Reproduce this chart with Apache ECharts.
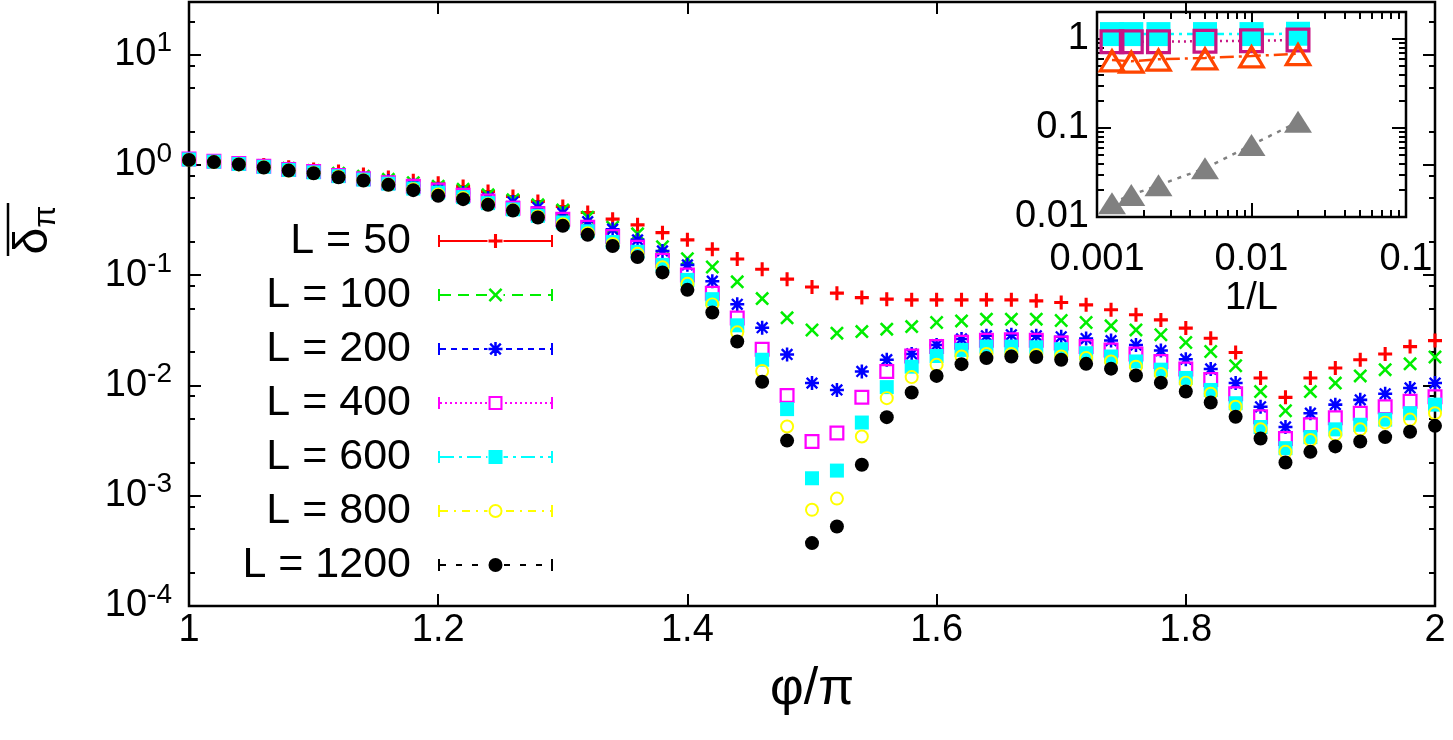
<!DOCTYPE html>
<html>
<head>
<meta charset="utf-8">
<title>delta_pi vs phi/pi</title>
<script src="https://cdn.jsdelivr.net/npm/echarts@6/dist/echarts.min.js"></script>
<style>
  html, body { margin: 0; padding: 0; background: #fff; }
  #main { width: 1453px; height: 740px; }
</style>
</head>
<body>
<div id="main"></div>
<script>
// ---- data ----
var phi = [1.00, 1.02, 1.04, 1.06, 1.08, 1.10, 1.12, 1.14, 1.16, 1.18,
           1.20, 1.22, 1.24, 1.26, 1.28, 1.30, 1.32, 1.34, 1.36, 1.38,
           1.40, 1.42, 1.44, 1.46, 1.48, 1.50, 1.52, 1.54, 1.56, 1.58,
           1.60, 1.62, 1.64, 1.66, 1.68, 1.70, 1.72, 1.74, 1.76, 1.78,
           1.80, 1.82, 1.84, 1.86, 1.88, 1.90, 1.92, 1.94, 1.96, 1.98, 2.00];

var dL50 = [1.13, 1.08, 1.04, 1.0, 0.95, 0.91, 0.87, 0.82, 0.77, 0.72,
            0.682, 0.636, 0.573, 0.516, 0.465, 0.419, 0.370, 0.322, 0.286, 0.243,
            0.209, 0.172, 0.140, 0.113, 0.092, 0.078, 0.0687, 0.0626, 0.0606, 0.0597,
            0.0597, 0.0597, 0.0597, 0.0597, 0.0585, 0.0565, 0.0538, 0.0485, 0.0437, 0.0393,
            0.0331, 0.0268, 0.0199, 0.0117, 0.0078, 0.0117, 0.0144, 0.0171, 0.0193, 0.0225, 0.0255];
var dL100 = [1.12, 1.07, 1.03, 0.98, 0.93, 0.89, 0.84, 0.79, 0.74, 0.69,
             0.64, 0.60, 0.535, 0.482, 0.434, 0.39, 0.336, 0.272, 0.237, 0.181,
             0.141, 0.1186, 0.087, 0.0613, 0.041, 0.0318, 0.0298, 0.0308, 0.0324, 0.0342,
             0.0372, 0.0385, 0.0399, 0.0399, 0.0399, 0.0388, 0.0372, 0.0347, 0.0319, 0.0288,
             0.0245, 0.0203, 0.0151, 0.0088, 0.0059, 0.0088, 0.0105, 0.0122, 0.0139, 0.0157, 0.0181];
var dL200 = [1.12, 1.07, 1.02, 0.97, 0.92, 0.87, 0.81, 0.76, 0.71, 0.65,
             0.60, 0.555, 0.50, 0.46, 0.41, 0.365, 0.306, 0.261, 0.209, 0.166,
             0.124, 0.0882, 0.0544, 0.0334, 0.0191, 0.0105, 0.0091, 0.0134, 0.0171, 0.0193,
             0.0233, 0.0264, 0.0282, 0.0288, 0.0282, 0.0276, 0.0266, 0.0255, 0.0233, 0.0207,
             0.0173, 0.0141, 0.0105, 0.0064, 0.0042, 0.0056, 0.0067, 0.0074, 0.0084, 0.0095, 0.0105];
var dL400 = [1.13, 1.08, 1.03, 0.97, 0.91, 0.87, 0.80, 0.75, 0.69, 0.64,
             0.593, 0.53, 0.47, 0.405, 0.36, 0.322, 0.272, 0.224, 0.1795, 0.1368,
             0.1006, 0.0684, 0.0408, 0.0213, 0.0081, 0.0031, 0.0037, 0.0078, 0.0134, 0.0185,
             0.0225, 0.0247, 0.0257, 0.0259, 0.0257, 0.0243, 0.0225, 0.0210, 0.0193, 0.0165,
             0.0141, 0.0113, 0.0084, 0.0052, 0.0033, 0.0044, 0.0051, 0.0056, 0.0064, 0.0072, 0.0079];
var dL600 = [1.12, 1.07, 1.02, 0.96, 0.90, 0.855, 0.79, 0.735, 0.675, 0.61,
             0.56, 0.51, 0.45, 0.395, 0.345, 0.30, 0.25, 0.20, 0.163, 0.124,
             0.0906, 0.0606, 0.0351, 0.0171, 0.0061, 0.00144, 0.00169, 0.00461, 0.00966, 0.0148,
             0.0185, 0.0210, 0.0225, 0.0225, 0.0222, 0.0213, 0.0196, 0.0183, 0.0165, 0.0139,
             0.0117, 0.0091, 0.0069, 0.0042, 0.0027, 0.0034, 0.0040, 0.0044, 0.0049, 0.0056, 0.0067];
var dL800 = [1.11, 1.06, 1.01, 0.95, 0.89, 0.845, 0.78, 0.725, 0.665, 0.60,
             0.54, 0.50, 0.44, 0.39, 0.34, 0.29, 0.24, 0.192, 0.156, 0.118,
             0.0834, 0.0543, 0.0303, 0.0135, 0.00424, 0.000745, 0.000942, 0.00344, 0.00767, 0.0119,
             0.0154, 0.0183, 0.0193, 0.0193, 0.0189, 0.0183, 0.0177, 0.0165, 0.0148, 0.0127,
             0.0106, 0.0084, 0.0064, 0.0040, 0.0025, 0.0032, 0.0036, 0.0040, 0.0046, 0.0049, 0.0056];
var dL1200 = [1.11, 1.06, 1.01, 0.946, 0.888, 0.841, 0.773, 0.721, 0.659, 0.59,
              0.524, 0.489, 0.434, 0.385, 0.333, 0.280, 0.232, 0.184, 0.146, 0.106,
              0.0736, 0.0458, 0.0250, 0.0108, 0.00316, 0.000372, 0.000526, 0.00191, 0.00516, 0.00863,
              0.0122, 0.0156, 0.0177, 0.0183, 0.0181, 0.0171, 0.0157, 0.0142, 0.0123, 0.0106,
              0.0088, 0.0070, 0.0052, 0.0033, 0.0020, 0.0025, 0.0028, 0.0031, 0.0034, 0.0038, 0.0043];

var legendNames = ['L = 50', 'L = 100', 'L = 200', 'L = 400', 'L = 600', 'L = 800', 'L = 1200'];

// inset: 1/L
var invL = [0.00125, 0.001667, 0.0025, 0.005, 0.01, 0.02];
var insetCyan = [1.13, 1.13, 1.13, 1.13, 1.13, 1.14];
var insetMagenta = [0.93, 0.93, 0.93, 0.94, 0.95, 0.97];
var insetOrange = [0.58, 0.56, 0.59, 0.61, 0.64, 0.68];
var insetGray = [0.0143, 0.0177, 0.0227, 0.0352, 0.0641, 0.117];

// tick values
var xTicks = [1, 1.2, 1.4, 1.6, 1.8, 2];
var yMajor = [1e-4, 1e-3, 1e-2, 1e-1, 1, 10];
var yMinor = [2e-4, 5e-4, 8e-4, 2e-3, 5e-3, 8e-3, 2e-2, 5e-2, 8e-2, 0.2, 0.5, 0.8, 2, 5, 8, 20];
var insetXMajor = [0.001, 0.01, 0.1];
var insetXMinor = [0.002, 0.003, 0.004, 0.005, 0.006, 0.007, 0.008, 0.009,
                   0.02, 0.03, 0.04, 0.05, 0.06, 0.07, 0.08, 0.09];
var insetYMajor = [0.01, 0.1, 1];
var insetYMinor = [0.02, 0.03, 0.04, 0.05, 0.06, 0.07, 0.08, 0.09,
                   0.2, 0.3, 0.4, 0.5, 0.6, 0.7, 0.8, 0.9];

// ---- styles ----
var FONT = '"Liberation Sans", Arial, Helvetica, sans-serif';

// marker outlines in a 10x10 box (clockwise = filled, counter-clockwise = hole)
var SHAPE = {
    plus: [[[3.9,0],[6.1,0],[6.1,3.9],[10,3.9],[10,6.1],[6.1,6.1],[6.1,10],[3.9,10],[3.9,6.1],[0,6.1],[0,3.9],[3.9,3.9]]],
    cross: [[[0,1.3],[1.3,0],[5,3.7],[8.7,0],[10,1.3],[6.3,5],[10,8.7],[8.7,10],[5,6.3],[1.3,10],[0,8.7],[3.7,5]]],
    star: [[[4.1,0],[5.9,0],[5.9,4.1],[10,4.1],[10,5.9],[5.9,5.9],[5.9,10],[4.1,10],[4.1,5.9],[0,5.9],[0,4.1],[4.1,4.1]],
           [[0.6,1.8],[1.8,0.6],[5,3.8],[8.2,0.6],[9.4,1.8],[6.2,5],[9.4,8.2],[8.2,9.4],[5,6.2],[1.8,9.4],[0.6,8.2],[3.8,5]]],
    osquare: [[[0,0],[10,0],[10,10],[0,10]], [[1.5,1.5],[1.5,8.5],[8.5,8.5],[8.5,1.5]]],
    square: [[[0,0],[10,0],[10,10],[0,10]]]
};

function polyPath(polys, ox, oy, k) {
    return polys.map(function (p) {
        return p.map(function (pt, i) {
            return (i ? 'L' : 'M') + (ox + pt[0] * k).toFixed(2) + ',' + (oy + pt[1] * k).toFixed(2);
        }).join('') + 'Z';
    }).join(' ');
}
function circlePath(cx, cy, r, hole) {
    var sw = hole ? 0 : 1;
    return 'M' + cx + ',' + (cy - r) + 'A' + r + ',' + r + ',0,1,' + sw + ',' + cx + ',' + (cy + r) +
           'A' + r + ',' + r + ',0,1,' + sw + ',' + cx + ',' + (cy - r) + 'Z';
}
function markerPath(kind, ox, oy, k) {
    if (kind === 'ocircle') return circlePath(ox + 5 * k, oy + 5 * k, 5 * k, false) + ' ' + circlePath(ox + 5 * k, oy + 5 * k, 3.6 * k, true);
    if (kind === 'circle') return circlePath(ox + 5 * k, oy + 5 * k, 5 * k, false);
    return polyPath(SHAPE[kind], ox, oy, k);
}
function rectP(x0, y0, x1, y1) {
    return 'M' + x0 + ',' + y0 + 'H' + x1 + 'V' + y1 + 'H' + x0 + 'Z';
}

// legend sample: dashed line, end caps and the marker, drawn as one icon path
var LW = 115, LH = 14;
function legendIcon(kind, pattern) {
    var cy = LH / 2, s = '';
    var gapA = LW / 2 - 8, gapB = LW / 2 + 8;
    var x = 2, i = 0;
    while (x < LW - 2) {
        var len = pattern[i % pattern.length];
        if (i % 2 === 0) {
            var a = x, b = Math.min(x + len, LW - 2);
            if (b > gapA && a < gapB) {
                if (a < gapA) s += rectP(a, cy - 1, gapA, cy + 1);
                if (b > gapB) s += rectP(gapB, cy - 1, b, cy + 1);
            } else {
                s += rectP(a, cy - 1, b, cy + 1);
            }
        }
        x += len;
        i++;
    }
    s += rectP(0, 1, 2, LH - 1) + rectP(LW - 2, 1, LW, LH - 1);
    s += markerPath(kind, LW / 2 - 7, 0, 1.4);
    return 'path://' + s;
}

var colors = ['#ff0000', '#00ee00', '#0000ff', '#ff00ff', '#00ffff', '#ffff00', '#000000'];
var kinds = ['plus', 'cross', 'star', 'osquare', 'square', 'ocircle', 'circle'];
var symSizes = [14, 14, 14, 15, 14, 14, 14];
var dashes = [[1000, 0], [11, 7], [6, 5], [2, 3], [14, 5, 3, 5], [8, 6, 2, 6], [6, 10]];
var mainData = [dL50, dL100, dL200, dL400, dL600, dL800, dL1200];

var chart = echarts.init(document.getElementById('main'));

function tickAxis(type, gridIndex, position, min, max, ticks, len) {
    return {
        type: type, gridIndex: gridIndex, position: position, min: min, max: max,
        axisLine: {show: false},
        axisTick: {show: true, inside: true, length: len, customValues: ticks,
                   lineStyle: {color: '#000', width: 2}},
        axisLabel: {show: false},
        splitLine: {show: false},
        minorTick: {show: false},
        silent: true
    };
}

// main x
var xMain = tickAxis('value', 0, 'bottom', 1, 2, xTicks, 12);
xMain.interval = 0.2;
xMain.axisLabel = {
    show: true, customValues: xTicks, margin: 6, fontSize: 38, fontFamily: FONT, color: '#000',
    formatter: function (v) { return String(+(+v).toFixed(1)); }
};
xMain.name = 'φ/π';
xMain.nameLocation = 'middle';
xMain.nameGap = 58;
xMain.nameTextStyle = {fontSize: 52, fontFamily: FONT, color: '#000'};

// main y
var yMain = tickAxis('log', 0, 'left', 1e-4, 30, yMajor, 12);
yMain.axisLabel = {
    show: true, customValues: yMajor, margin: 17, color: '#000',
    formatter: function (v) {
        var e = Math.round(Math.log(v) / Math.LN10);
        return '{b|10}{s|' + e + '}';
    },
    rich: {
        b: {fontSize: 38, lineHeight: 50, fontFamily: FONT, color: '#000'},
        s: {fontSize: 28, lineHeight: 24, verticalAlign: 'top', fontFamily: FONT, color: '#000'}
    }
};

// inset x
var xIn = tickAxis('log', 1, 'bottom', 0.001, 0.1, insetXMajor, 14);
xIn.axisLabel = {
    show: true, customValues: insetXMajor, margin: 24, fontSize: 38, fontFamily: FONT, color: '#000',
    formatter: function (v) { return v < 0.005 ? '0.001' : (v < 0.05 ? '0.01' : '0.1'); }
};
xIn.name = '1/L';
xIn.nameLocation = 'middle';
xIn.nameGap = 62;
xIn.nameTextStyle = {fontSize: 38, fontFamily: FONT, color: '#000'};

// inset y
var yIn = tickAxis('log', 1, 'left', 0.01, 2, insetYMajor, 14);
yIn.axisLabel = {
    show: true, customValues: insetYMajor, margin: 8, fontSize: 38, fontFamily: FONT, color: '#000',
    formatter: function (v) { return v > 0.5 ? '1' : (v > 0.05 ? '0.1' : '0.01'); }
};

var xAxes = [
    xMain,
    tickAxis('value', 0, 'top', 1, 2, xTicks, 12),
    xIn,
    tickAxis('log', 1, 'bottom', 0.001, 0.1, insetXMinor, 7),
    tickAxis('log', 1, 'top', 0.001, 0.1, insetXMajor, 14),
    tickAxis('log', 1, 'top', 0.001, 0.1, insetXMinor, 7)
];
var yAxes = [
    yMain,
    tickAxis('log', 0, 'left', 1e-4, 30, yMinor, 6),
    tickAxis('log', 0, 'right', 1e-4, 30, yMajor, 12),
    tickAxis('log', 0, 'right', 1e-4, 30, yMinor, 6),
    yIn,
    tickAxis('log', 1, 'left', 0.01, 2, insetYMinor, 7),
    tickAxis('log', 1, 'right', 0.01, 2, insetYMajor, 14),
    tickAxis('log', 1, 'right', 0.01, 2, insetYMinor, 7)
];

var series = [];
var legendData = [];
for (var k = 0; k < mainData.length; k++) {
    var vals = mainData[k];
    series.push({
        name: legendNames[k], type: 'line', xAxisIndex: 0, yAxisIndex: 0,
        data: phi.map(function (x, i) { return [x, vals[i]]; }),
        symbol: 'path://' + markerPath(kinds[k], 0, 0, 1),
        symbolSize: symSizes[k], symbolKeepAspect: true, showSymbol: true,
        itemStyle: {color: colors[k]},
        lineStyle: {opacity: 0, width: 0},
        silent: true, animation: false, clip: false
    });
    legendData.push({
        name: legendNames[k],
        icon: legendIcon(kinds[k], dashes[k]),
        itemStyle: {color: colors[k]}
    });
}

function insetSeries(vals, symbol, size, color, lineType) {
    return {
        type: 'line', xAxisIndex: 2, yAxisIndex: 4,
        data: invL.map(function (x, i) { return [x, vals[i]]; }),
        symbol: symbol, symbolSize: size, showSymbol: true,
        itemStyle: {color: color},
        lineStyle: {color: color, width: 2.5, type: lineType},
        silent: true, animation: false
    };
}
var P_OSQ = 'path://' + polyPath([[[0,0],[10,0],[10,10],[0,10]], [[1.3,1.3],[1.3,8.7],[8.7,8.7],[8.7,1.3]]], 0, 0, 1);
var P_OTRI = 'path://' + polyPath([[[5,0],[10,10],[0,10]], [[5,2.9],[1.9,8.7],[8.1,8.7]]], 0, 0, 1);
series.push(insetSeries(insetCyan, 'rect', 24, '#00ffff', [12, 5, 3, 5]));
series.push(insetSeries(insetMagenta, P_OSQ, 25, '#c71585', [2, 4]));
series.push(insetSeries(insetOrange, P_OTRI, [29, 25], '#ff4500', [14, 5, 3, 5]));
series.push(insetSeries(insetGray, 'triangle', [28, 22], '#808080', [4, 6]));

var option = {
    animation: false,
    backgroundColor: '#fff',
    textStyle: {fontFamily: FONT},
    grid: [
        {left: 189, top: 2, width: 1246, height: 604, show: true, borderColor: '#000', borderWidth: 2.5,
         backgroundColor: 'transparent', outerBoundsMode: 'none', containLabel: false},
        {left: 1097, top: 12, width: 309, height: 205, show: true, borderColor: '#000', borderWidth: 2.5,
         backgroundColor: '#fff', outerBoundsMode: 'none', containLabel: false}
    ],
    legend: {
        orient: 'vertical', right: 900, top: 214, padding: 0, itemGap: 0,
        itemWidth: LW, itemHeight: LH, align: 'right', selectedMode: false, symbolKeepAspect: true,
        textStyle: {fontSize: 43, lineHeight: 54, fontFamily: FONT, color: '#000', padding: [0, 22, 0, 0]},
        data: legendData
    },
    xAxis: xAxes,
    yAxis: yAxes,
    series: series,
    graphic: [
        {type: 'text', x: 34, y: 230, rotation: Math.PI / 2,
         style: {text: '{d|δ}{p|π}', align: 'center', verticalAlign: 'middle', fill: '#000',
                 rich: {d: {fontSize: 48, lineHeight: 56, fontFamily: FONT, fill: '#000'},
                        p: {fontSize: 32, lineHeight: 30, verticalAlign: 'bottom', fontFamily: FONT, fill: '#000'}}}},
        {type: 'line', shape: {x1: 8, y1: 203, x2: 8, y2: 256}, style: {stroke: '#000', lineWidth: 2.5}}
    ]
};

chart.setOption(option);
</script>
</body>
</html>
